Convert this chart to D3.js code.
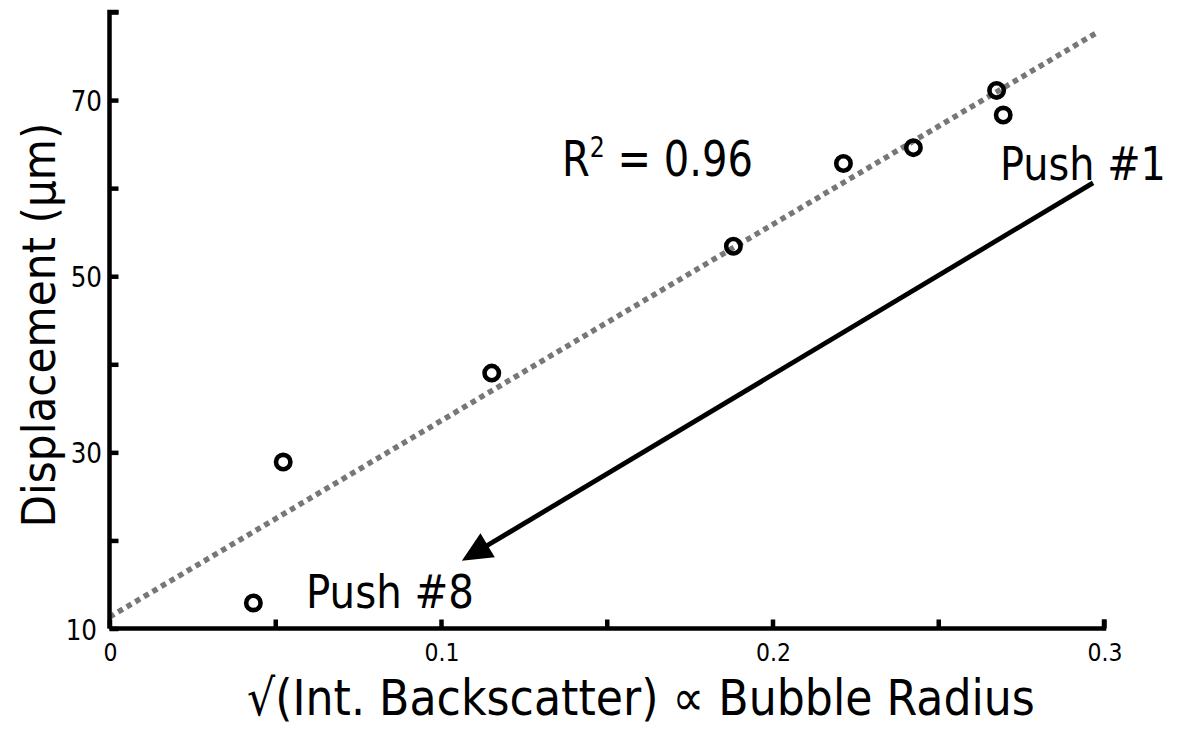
<!DOCTYPE html>
<html>
<head>
<meta charset="utf-8">
<script src="https://cdn.jsdelivr.net/npm/d3@7"></script>
<style>
  html, body { margin: 0; padding: 0; background: #fff; }
  svg { display: block; }
  text { font-family: "DejaVu Sans", Verdana, sans-serif; fill: #000; }
</style>
</head>
<body>
<svg id="chart" width="1183" height="733"></svg>
<script>
// ---- data ----
const xValues = [0.0434, 0.0524, 0.1153, 0.1882, 0.2214, 0.2425, 0.2676, 0.2696];
const yValues = [12.9, 28.9, 39.0, 53.4, 62.8, 64.6, 71.1, 68.3];
const trendX = [0, 0.298];
const trendY = [11.3, 77.7];
const xTicks = [0, 0.05, 0.1, 0.15, 0.2, 0.25, 0.3];
const xTickLabels = ["0", "", "0.1", "", "0.2", "", "0.3"];
const yTicks = [10, 20, 30, 40, 50, 60, 70, 80];
const yTickLabels = ["10", "", "30", "", "50", "", "70", ""];
const arrowFrom = [0.2967, 60.6];
const arrowTo = [0.1063, 17.7];
const xTitle = "√(Int. Backscatter) ∝ Bubble Radius";
const yTitle = "Displacement (μm)";

// ---- scales ----
const svg = d3.select("#chart");
const x = d3.scaleLinear().domain([0, 0.3]).range([109.5, 1104]);
const y = d3.scaleLinear().domain([10, 80]).range([628.5, 12]);

function fitText(sel, width) {
  const node = sel.node();
  const bb = node.getBBox();
  const s = width / bb.width;
  sel.attr("transform", `translate(${bb.x},0) scale(${s},1) translate(${-bb.x},0)`);
}

// ---- trend line ----
svg.append("line")
  .attr("x1", x(trendX[0])).attr("y1", y(trendY[0]))
  .attr("x2", x(trendX[1])).attr("y2", y(trendY[1]))
  .attr("stroke", "#777").attr("stroke-width", 5.5)
  .attr("stroke-dasharray", "5.5,4.5");

// ---- axes ----
const yAxis = d3.axisRight(y).tickValues(yTicks).tickSize(9).tickFormat("");
const gy = svg.append("g").attr("transform", `translate(${x(0)},0)`).call(yAxis);
gy.select(".domain").attr("d", `M9,${y(80)}H0V${y(10)}`).attr("stroke", "#000").attr("stroke-width", 4.5).attr("fill", "none");
gy.selectAll(".tick line").attr("stroke", "#000").attr("stroke-width", 4.5);

const xAxis = d3.axisTop(x).tickValues(xTicks).tickSize(9).tickFormat("");
const gx = svg.append("g").attr("transform", `translate(0,${y(10)})`).call(xAxis);
gx.select(".domain").attr("d", `M${x(0)},0H${x(0.3)}V-9`).attr("stroke", "#000").attr("stroke-width", 4.5).attr("fill", "none");
gx.selectAll(".tick line").attr("stroke", "#000").attr("stroke-width", 4.5);

// tick labels
svg.append("g").selectAll("text").data(yTicks.map((v, i) => [v, yTickLabels[i]]).filter(d => d[1]))
  .join("text")
  .attr("transform", d => `translate(${d[0] === 10 ? 97 : 102},${y(d[0]) + 11}) scale(0.88,1)`)
  .attr("text-anchor", "end").attr("font-size", 28)
  .text(d => d[1]);

svg.append("g").selectAll("text").data(xTicks.map((v, i) => [v, xTickLabels[i]]).filter(d => d[1]))
  .join("text")
  .attr("transform", d => `translate(${x(d[0]) + 1},661) scale(0.88,1)`)
  .attr("text-anchor", "middle").attr("font-size", 25)
  .text(d => d[1]);

// ---- points ----
svg.append("g").selectAll("circle").data(xValues.map((v, i) => [v, yValues[i]]))
  .join("circle")
  .attr("cx", d => x(d[0])).attr("cy", d => y(d[1]))
  .attr("r", 7.2).attr("fill", "none").attr("stroke", "#000").attr("stroke-width", 4.6);

// ---- arrow ----
const ax0 = x(arrowFrom[0]), ay0 = y(arrowFrom[1]);
const ax1 = x(arrowTo[0]), ay1 = y(arrowTo[1]);
const ang = Math.atan2(ay1 - ay0, ax1 - ax0);
const headLen = 30, headHalf = 14;
const bx = ax1 - headLen * Math.cos(ang), by = ay1 - headLen * Math.sin(ang);
svg.append("line")
  .attr("x1", ax0).attr("y1", ay0).attr("x2", bx + 2 * Math.cos(ang)).attr("y2", by + 2 * Math.sin(ang))
  .attr("stroke", "#000").attr("stroke-width", 4.8);
const px = -Math.sin(ang), py = Math.cos(ang);
svg.append("path")
  .attr("d", `M${ax1},${ay1}L${bx + headHalf * px},${by + headHalf * py}L${bx - headHalf * px},${by - headHalf * py}Z`)
  .attr("fill", "#000");

// ---- annotations ----
const r2 = svg.append("text").attr("x", 562).attr("y", 176).attr("font-size", 49);
r2.append("tspan").text("R");
r2.append("tspan").attr("font-size", 29).attr("dy", -19).text("2");
r2.append("tspan").attr("dy", 19).text(" = 0.96");
fitText(r2, 191);

const p1 = svg.append("text").attr("x", 1000).attr("y", 180).attr("font-size", 46).text("Push #1");
fitText(p1, 166);
const p8 = svg.append("text").attr("x", 306).attr("y", 608).attr("font-size", 46).text("Push #8");
fitText(p8, 168);

// ---- titles ----
const xt = svg.append("text").attr("x", 247).attr("y", 715).attr("font-size", 50).text(xTitle);
fitText(xt, 788);

const yt = svg.append("text").attr("font-size", 47).attr("text-anchor", "middle").text(yTitle)
  .attr("transform", "translate(55,325) rotate(-90)");
{
  const w = yt.node().getBBox().width;
  yt.attr("transform", `translate(55,325) rotate(-90) scale(${405 / w},1)`);
}
</script>
</body>
</html>
